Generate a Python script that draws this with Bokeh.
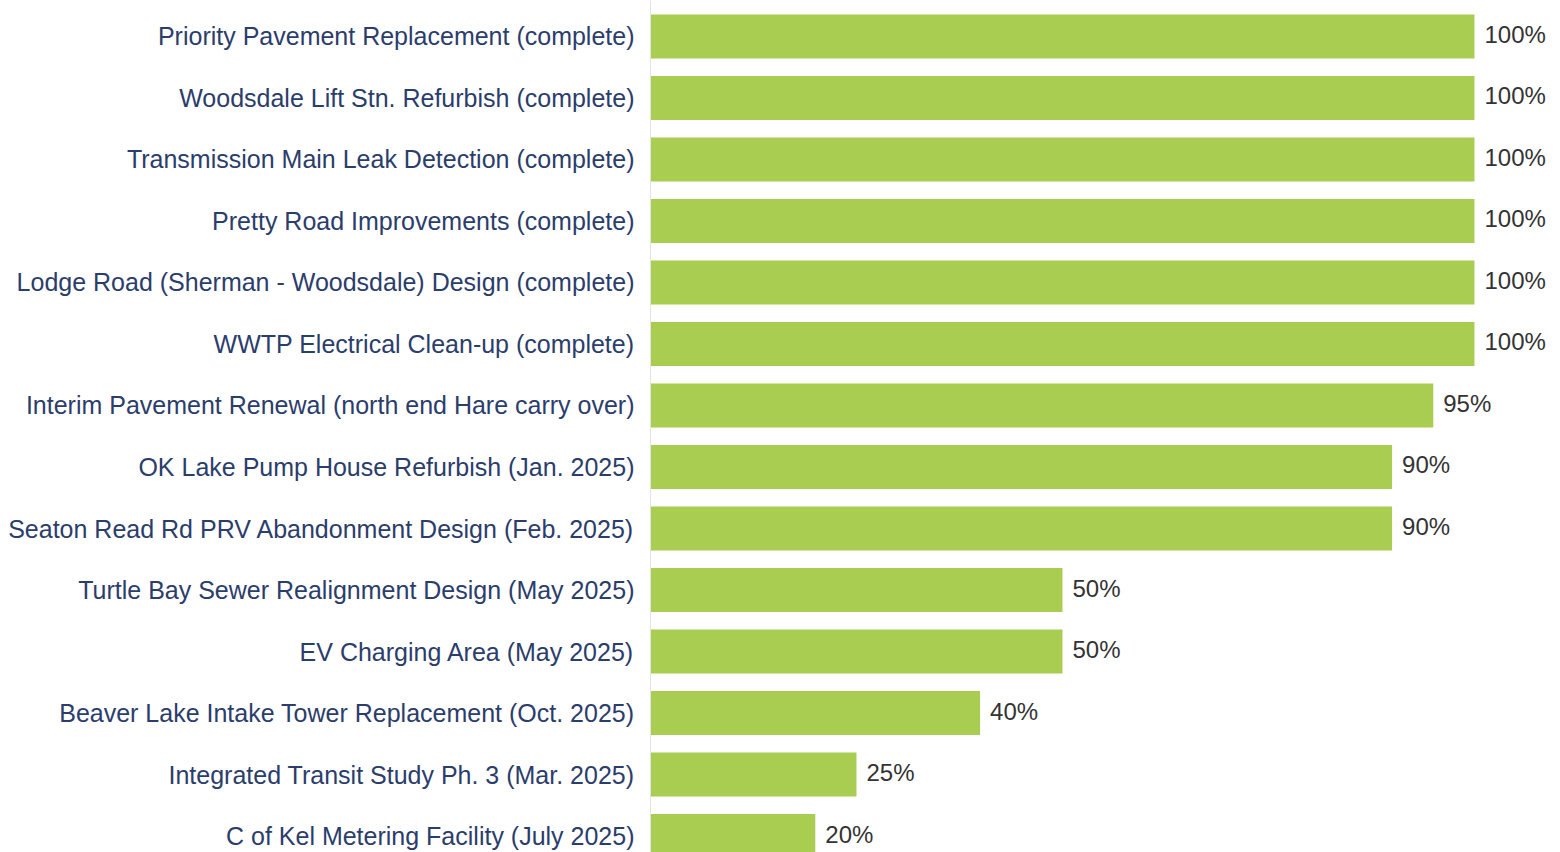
from bokeh.plotting import figure
from bokeh.models import ColumnDataSource, Range1d, FixedTicker
from bokeh.core.properties import value
from bokeh.embed import file_html
from bokeh.resources import INLINE

projects = [
    "Priority Pavement Replacement (complete)",
    "Woodsdale Lift Stn. Refurbish (complete)",
    "Transmission Main Leak Detection (complete)",
    "Pretty Road Improvements (complete)",
    "Lodge Road (Sherman - Woodsdale) Design (complete)",
    "WWTP Electrical Clean-up (complete)",
    "Interim Pavement Renewal (north end Hare carry over)",
    "OK Lake Pump House Refurbish (Jan. 2025)",
    "Seaton Read Rd PRV Abandonment Design (Feb. 2025)",
    "Turtle Bay Sewer Realignment Design (May 2025)",
    "EV Charging Area (May 2025)",
    "Beaver Lake Intake Tower Replacement (Oct. 2025)",
    "Integrated Transit Study Ph. 3 (Mar. 2025)",
    "C of Kel Metering Facility (July 2025)",
]
percent_complete = [100, 100, 100, 100, 100, 100, 95, 90, 90, 50, 50, 40, 25, 20]

FONT = "Liberation Sans"
BAR_COLOR = "#a9cd51"
LABEL_COLOR = "#2b3d6b"

pos = list(range(len(projects)))
src = ColumnDataSource(dict(
    y=pos,
    v=percent_complete,
    lbl=[f"{v}%" for v in percent_complete],
))

p = figure(
    width=1552, height=852,
    output_backend="svg", toolbar_location=None,
    x_range=Range1d(0, 109.47),
    y_range=Range1d(13.268, -0.585),
    min_border_left=650, min_border_right=0,
    min_border_top=0, min_border_bottom=0,
)
p.outline_line_color = None
p.background_fill_color = "white"
p.border_fill_color = "white"
p.xgrid.visible = False
p.ygrid.visible = False
p.xaxis.visible = False

p.hbar(y="y", right="v", left=0, height=0.716, source=src,
       fill_color=BAR_COLOR, line_color=None)

p.text(x="v", y="y", text="lbl", source=src, x_offset=10, y_offset=-2,
       text_baseline="middle", text_align="left",
       text_font=value(FONT), text_font_size="24px", text_color="#333333")

ya = p.yaxis[0]
ya.ticker = FixedTicker(ticks=pos)
ya.major_label_overrides = {i: name for i, name in enumerate(projects)}
ya.major_tick_line_color = None
ya.major_tick_out = 0
ya.major_tick_in = 0
ya.minor_tick_line_color = None
ya.axis_line_color = "#e3e3e3"
ya.axis_line_width = 1
ya.major_label_standoff = 16
ya.major_label_text_font = FONT
ya.major_label_text_font_size = "25px"
ya.major_label_text_color = LABEL_COLOR

open("out.html", "w").write(file_html(p, INLINE))
